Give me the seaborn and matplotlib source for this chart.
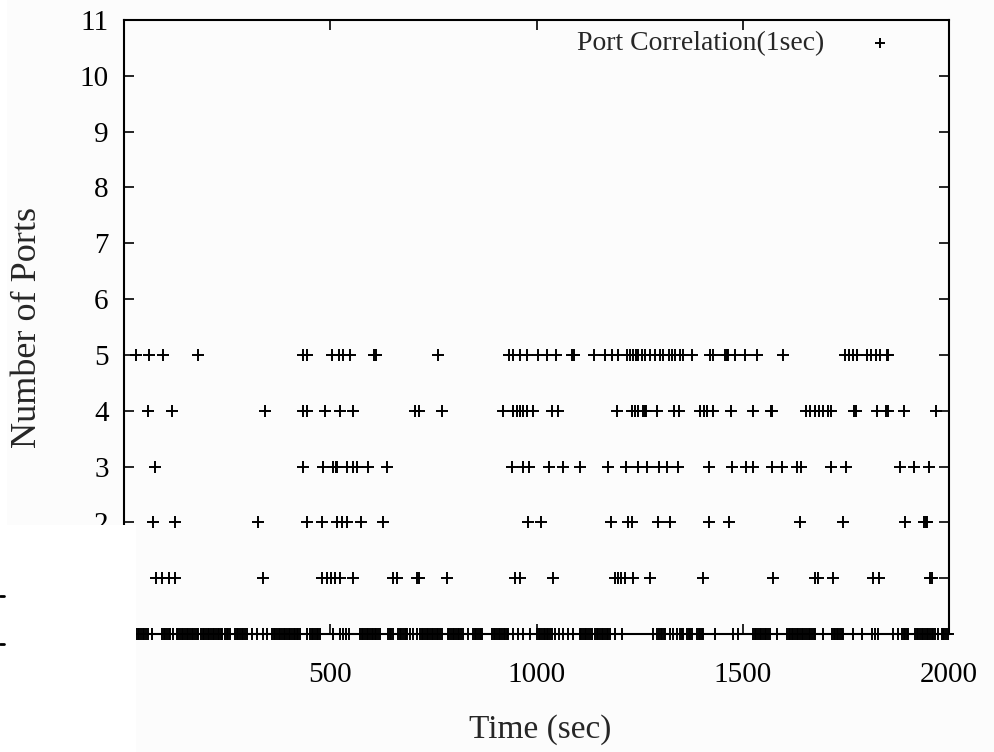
import numpy as np
import pandas as pd
import matplotlib
matplotlib.use("Agg")
import matplotlib.pyplot as plt
import seaborn as sns
from matplotlib.patches import Rectangle
from matplotlib.lines import Line2D

# ---- data (time in seconds at which each port count was observed) ----
times_5 = [29, 61, 94, 180, 435, 443, 505, 520, 532, 548, 605, 610, 762,
           934, 944, 960, 978, 1004, 1025, 1047, 1087, 1091, 1139, 1166, 1182,
           1198, 1220, 1227, 1233, 1241, 1247, 1255, 1263, 1275, 1287, 1299,
           1307, 1320, 1328, 1336, 1348, 1356, 1376, 1421, 1429, 1457, 1461,
           1465, 1481, 1505, 1534, 1597, 1748, 1758, 1768, 1777, 1800, 1812,
           1823, 1833, 1849, 1853]
times_4 = [57, 116, 342, 435, 443, 487, 524, 554, 705, 714, 770, 918, 944,
           952, 960, 968, 977, 992, 1037, 1053, 1194, 1231, 1239, 1247, 1259,
           1262, 1265, 1291, 1333, 1346, 1396, 1405, 1413, 1429, 1471, 1524,
           1568, 1572, 1653, 1663, 1675, 1686, 1695, 1707, 1715, 1770, 1774,
           1825, 1848, 1852, 1892, 1968]
times_3 = [75, 435, 483, 507, 514, 517, 540, 554, 564, 592, 637, 940, 968,
           982, 1031, 1065, 1105, 1173, 1217, 1247, 1268, 1298, 1316, 1344,
           1419, 1475, 1508, 1524, 1572, 1594, 1631, 1640, 1713, 1750, 1880,
           1914, 1952]
times_2 = [71, 124, 324, 443, 481, 516, 528, 540, 574, 627, 980, 1011, 1181,
           1223, 1231, 1295, 1324, 1419, 1467, 1639, 1742, 1894, 1939, 1944,
           1947]
times_1 = [77, 92, 108, 124, 338, 479, 493, 501, 512, 524, 554, 653, 661,
           711, 715, 782, 948, 960, 1039, 1190, 1198, 1206, 1215, 1235, 1275,
           1403, 1574, 1675, 1683, 1718, 1815, 1831, 1954, 1958]
times_0 = [29, 33, 37, 41, 45, 49, 53, 58, 68, 92, 96, 100, 104, 108, 112, 119,
           128, 132, 136, 140, 144, 148, 152, 156, 160, 164, 168, 172, 176, 179,
           187, 191, 195, 199, 203, 207, 211, 215, 219, 223, 227, 231, 235, 238,
           245, 249, 253, 257, 269, 273, 277, 281, 285, 289, 293, 298, 310, 322,
           337, 347, 359, 363, 367, 371, 375, 379, 383, 387, 391, 395, 399, 403,
           407, 411, 415, 419, 423, 427, 444, 451, 455, 459, 463, 467, 471, 475,
           507, 524, 531, 538, 545, 572, 576, 580, 584, 588, 592, 596, 600, 604,
           608, 612, 616, 621, 640, 644, 648, 652, 664, 668, 672, 676, 680, 684,
           686, 693, 701, 710, 718, 722, 726, 730, 734, 738, 742, 746, 750, 754,
           758, 762, 766, 771, 785, 789, 793, 797, 801, 805, 809, 813, 817, 822,
           834, 846, 850, 854, 858, 862, 866, 868, 892, 896, 900, 904, 908, 912,
           916, 920, 924, 928, 931, 943, 955, 967, 984, 1001, 1005, 1009, 1013,
           1017, 1021, 1025, 1029, 1033, 1038, 1045, 1054, 1064, 1076, 1088,
           1105, 1109, 1113, 1117, 1121, 1125, 1129, 1134, 1142, 1146, 1150,
           1154, 1158, 1162, 1166, 1170, 1174, 1178, 1190, 1207, 1282, 1292,
           1297, 1301, 1305, 1309, 1312, 1324, 1331, 1341, 1348, 1352, 1355,
           1365, 1369, 1373, 1377, 1389, 1393, 1397, 1401, 1404, 1433, 1476,
           1488, 1525, 1529, 1533, 1537, 1541, 1545, 1549, 1553, 1557, 1561,
           1566, 1583, 1607, 1611, 1615, 1619, 1623, 1627, 1631, 1635, 1639,
           1643, 1647, 1651, 1656, 1660, 1664, 1668, 1672, 1675, 1695, 1716,
           1720, 1724, 1728, 1732, 1736, 1740, 1743, 1767, 1789, 1813, 1821,
           1828, 1864, 1876, 1886, 1890, 1894, 1898, 1901, 1918, 1922, 1926,
           1930, 1934, 1938, 1942, 1946, 1950, 1954, 1958, 1961, 1966, 1973,
           1983, 1985, 1989, 1993, 1998]

port_levels = [0, 1, 2, 3, 4, 5]
x_ticks = [0, 500, 1000, 1500, 2000]
y_ticks = [0, 1, 2, 3, 4, 5, 6, 7, 8, 9, 10, 11]
legend_label = "Port Correlation(1sec)"
x_label = "Time (sec)"
y_label = "Number of Ports"

series = [times_0, times_1, times_2, times_3, times_4, times_5]
df = pd.DataFrame({
    "time": [t for ts in series for t in ts],
    "ports": [lvl for lvl, ts in zip(port_levels, series) for _ in ts],
})

# ---- style ----
sns.set_style("ticks")
plt.rcParams["font.family"] = ["Liberation Serif", "DejaVu Serif"]
bg = "#fcfcfc"

W, H = 994, 752
fig = plt.figure(figsize=(W / 100, H / 100), dpi=100, facecolor=bg)
ax = fig.add_axes([124 / W, 1 - 634 / H, 825 / W, 614 / H])
ax.set_facecolor(bg)

sns.scatterplot(data=df, x="time", y="ports", marker="+", color="black",
                s=75, linewidth=1.4, label=legend_label, ax=ax,
                clip_on=False, zorder=3)

ax.set_xlim(0, 2000)
ax.set_ylim(0, 11)
ax.set_xticks(x_ticks)
ax.set_yticks(y_ticks)
ax.tick_params(direction="in", length=7, width=1.2, top=True, right=True,
               colors="black", labelsize=21)
ax.tick_params(axis="x", pad=20)
ax.tick_params(axis="y", pad=11)
for sp in ax.spines.values():
    sp.set_visible(True)
    sp.set_linewidth(1.5)
    sp.set_color("black")

ax.set_xlabel(x_label, fontsize=24)
ax.xaxis.set_label_coords(0.505, -0.130)
ax.set_ylabel(y_label, fontsize=26)
ax.yaxis.set_label_coords(-0.097, 0.5)

ax.legend(loc="upper right", bbox_to_anchor=(0.933, 0.982), frameon=False,
          markerfirst=False, fontsize=20, handlelength=1.0,
          handletextpad=1.5, borderpad=0, borderaxespad=0, markerscale=0.8)

# white overlay patch in lower-left corner and thin strip at left edge
fig.add_artist(Rectangle((0, 0), 136 / W, 1 - 525 / H, transform=fig.transFigure,
                         facecolor="white", edgecolor="none", zorder=20))
fig.add_artist(Rectangle((0, 0), 7 / W, 1, transform=fig.transFigure,
                         facecolor="white", edgecolor="none", zorder=20))
for yy in [596, 644]:
    fig.add_artist(Line2D([0, 4 / W], [1 - yy / H, 1 - yy / H], color="black",
                          lw=2, transform=fig.transFigure, zorder=21))

fig.savefig("out.png", dpi=100, facecolor=bg)
